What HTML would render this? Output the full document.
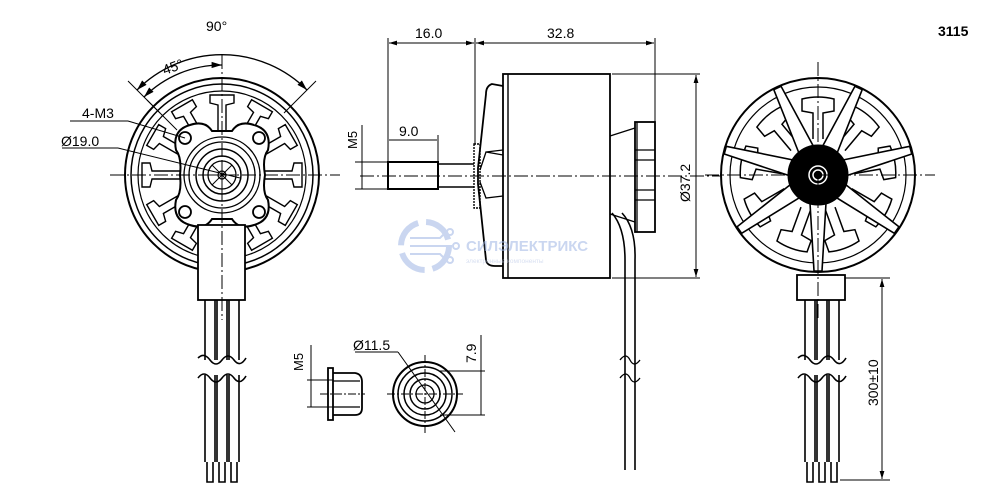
<!DOCTYPE html>
<html><head><meta charset="utf-8"><style>
html,body{margin:0;padding:0;background:#fff;}
svg{display:block;}
text{font-family:"Liberation Sans",sans-serif;fill:#000;}
</style></head><body>
<svg width="1000" height="500" viewBox="0 0 1000 500" xmlns="http://www.w3.org/2000/svg">
<defs>
<marker id="ar" viewBox="0 0 10 6" refX="10" refY="3" markerWidth="8" markerHeight="5" orient="auto-start-reverse"><path d="M0,0 L10,3 L0,6 z" fill="#000"/></marker>
<g id="tooth">
<path d="M-4,-42 L-4,-70 L-12,-72 L-12,-80 L12,-80 L12,-72 L4,-70 L4,-42" fill="none" stroke="#000" stroke-width="1.4"/>
</g>
<g id="spoke">
<path d="M-8,-28 L-4,-96 L4,-96 L8,-28 z" fill="#fff" stroke="#000" stroke-width="1.6"/>
</g>
<g id="tooth2">
<path d="M-5,-36 L-5,-62 L-16,-64 L-16,-76 Q0,-80 16,-76 L16,-64 L5,-62 L5,-36" fill="none" stroke="#000" stroke-width="1.5"/>
</g>
</defs>

<text x="938" y="36" font-size="14" font-weight="bold">3115</text>

<!-- LEFT VIEW -->
<g stroke="#000" fill="none">
<circle cx="222" cy="175" r="97" stroke-width="2"/>
<circle cx="222" cy="175" r="91" stroke-width="1.5"/>
<circle cx="222" cy="175" r="84" stroke-width="1.2"/>
<g transform="translate(222,175)">
<use href="#tooth"/><use href="#tooth" transform="rotate(30)"/><use href="#tooth" transform="rotate(60)"/><use href="#tooth" transform="rotate(90)"/><use href="#tooth" transform="rotate(120)"/><use href="#tooth" transform="rotate(150)"/><use href="#tooth" transform="rotate(210)"/><use href="#tooth" transform="rotate(240)"/><use href="#tooth" transform="rotate(270)"/><use href="#tooth" transform="rotate(300)"/><use href="#tooth" transform="rotate(330)"/>
<line x1="-45" y1="-45" x2="-75" y2="-75" stroke-width="1"/>
</g>
<path d="M190,125 Q205,120 212,131 L232,131 Q239,120 254,125 Q272,130 268,150 Q262,158 265,175 Q262,192 268,200 Q272,220 254,225 Q239,230 232,219 L212,219 Q205,230 190,225 Q172,220 176,200 Q182,192 180,175 Q182,158 176,150 Q172,130 190,125 z" fill="#fff" stroke-width="2"/>
<circle cx="185" cy="138" r="6" stroke-width="1.8"/><circle cx="259" cy="138" r="6" stroke-width="1.8"/>
<circle cx="185" cy="212" r="6" stroke-width="1.8"/><circle cx="259" cy="212" r="6" stroke-width="1.8"/>
<circle cx="222" cy="175" r="38" stroke-width="1.3"/>
<circle cx="222" cy="175" r="33" stroke-width="1.3"/>
<circle cx="222" cy="175" r="26" stroke-width="1.5"/>
<circle cx="222" cy="175" r="19" stroke-width="1.5"/>
<circle cx="222" cy="175" r="14" stroke-width="1.3"/>
<circle cx="222" cy="175" r="4" stroke-width="1.2"/>
<g stroke-width="1"><line x1="208" y1="175" x2="236" y2="175"/><line x1="222" y1="161" x2="222" y2="189"/><line x1="212" y1="165" x2="232" y2="185"/><line x1="232" y1="165" x2="212" y2="185"/></g>
<rect x="198" y="225" width="47" height="75" fill="#fff" stroke-width="1.8"/>
<g stroke-width="1" stroke-dasharray="14,3,2,3"><line x1="110" y1="175" x2="340" y2="175"/><line x1="222" y1="55" x2="222" y2="320"/></g>
<g stroke-width="1.6">
<path d="M205,300 V360 M215,300 V360 M217,300 V360 M227,300 V360 M229,300 V360 M239,300 V360"/>
<path d="M205,375 V462 M215,375 V462 M217,375 V462 M227,375 V462 M229,375 V462 M239,375 V462"/>
<path d="M198,358 Q204,352 210,360 T222,360 T234,360 T246,358"/>
<path d="M198,378 Q204,370 210,378 T222,378 T234,378 T246,376"/>
<path d="M207,462 V482 H213 V462 M219,462 V482 H225 V462 M231,462 V482 H237 V462"/>
</g>
<path d="M137,90 A120,120 0 0 1 307,90" stroke-width="1.3" marker-start="url(#ar)" marker-end="url(#ar)"/>
<line x1="128" y1="81" x2="160" y2="113" stroke-width="1"/><line x1="316" y1="81" x2="284" y2="113" stroke-width="1"/>
<path d="M144,97 A110,110 0 0 1 222,65" stroke-width="1.3" marker-start="url(#ar)" marker-end="url(#ar)"/>
<line x1="70" y1="121" x2="128" y2="121" stroke-width="1"/><line x1="128" y1="121" x2="185" y2="138" stroke-width="1"/>
<line x1="62" y1="148" x2="118" y2="148" stroke-width="1"/><line x1="118" y1="148" x2="240" y2="178" stroke-width="1"/>
</g>
<text x="206" y="31" font-size="14">90°</text>
<text x="162" y="72" font-size="14" transform="rotate(-20 172 66)">45°</text>
<text x="82" y="118" font-size="14">4-M3</text>
<text x="61" y="146" font-size="14">Ø19.0</text>

<!-- SIDE VIEW -->
<g stroke="#000" fill="none">
<rect x="503" y="74" width="107" height="204" stroke-width="1.8"/>
<line x1="508" y1="74" x2="508" y2="278" stroke-width="1.4"/>
<path d="M503,86 L492,84 Q486,86 486,94 L478,168 L478,184 L486,260 Q487,266 495,266 L503,266" stroke-width="1.8"/>
<path d="M503,155 L486,152 L480,170 M503,196 L486,198 L480,182 M486,152 L503,150" stroke-width="1.3"/>
<rect x="474" y="144" width="6" height="64" stroke-width="1.4" stroke-dasharray="2,1"/>
<rect x="388" y="162" width="50" height="27" stroke-width="2"/>
<line x1="438" y1="164" x2="474" y2="164" stroke-width="1.4"/><line x1="438" y1="187" x2="474" y2="187" stroke-width="1.4"/>
<path d="M610,136 L635,128 M610,214 L635,222" stroke-width="1.3"/>
<rect x="635" y="122" width="20" height="110" stroke-width="1.8"/>
<path d="M637,122 V232 M635,150 H655 M635,160 H655 M635,190 H655 M635,200 H655" stroke-width="1.3"/>
<path d="M612,213 Q625,228 625,260 V470 M622,213 Q636,228 635,260 V470" stroke-width="1.6"/>
<path d="M620,360 Q626,352 630,360 T640,360 M620,378 Q626,370 630,378 T640,378" stroke-width="1.3"/>
<line x1="360" y1="176" x2="720" y2="176" stroke-width="1" stroke-dasharray="14,3,2,3"/>
<line x1="388" y1="38" x2="388" y2="162" stroke-width="1"/>
<line x1="475" y1="38" x2="475" y2="144" stroke-width="1"/>
<line x1="655" y1="38" x2="655" y2="122" stroke-width="1"/>
<line x1="389" y1="43" x2="474" y2="43" stroke-width="1" marker-start="url(#ar)" marker-end="url(#ar)"/>
<line x1="476" y1="43" x2="654" y2="43" stroke-width="1" marker-start="url(#ar)" marker-end="url(#ar)"/>
<line x1="438" y1="135" x2="438" y2="162" stroke-width="1"/>
<line x1="389" y1="140" x2="437" y2="140" stroke-width="1"/>
<line x1="355" y1="162" x2="388" y2="162" stroke-width="1"/><line x1="355" y1="189" x2="388" y2="189" stroke-width="1"/>
<line x1="362" y1="125" x2="362" y2="189" stroke-width="1"/>
<line x1="612" y1="74" x2="700" y2="74" stroke-width="1"/><line x1="612" y1="278" x2="700" y2="278" stroke-width="1"/>
<line x1="696" y1="75" x2="696" y2="277" stroke-width="1" marker-start="url(#ar)" marker-end="url(#ar)"/>
</g>
<text x="415" y="38" font-size="14">16.0</text>
<text x="547" y="38" font-size="14">32.8</text>
<text x="399" y="136" font-size="14">9.0</text>
<text x="357" y="149" font-size="13" transform="rotate(-90 357 149)">M5</text>
<text x="690" y="202" font-size="14" transform="rotate(-90 690 202)">Ø37.2</text>

<!-- RIGHT VIEW -->
<g stroke="#000" fill="none">
<circle cx="818" cy="175" r="97" stroke-width="2"/>
<circle cx="818" cy="175" r="88" stroke-width="1.2"/>
<g transform="translate(818,175)">
<use href="#tooth2" transform="rotate(0)"/><use href="#tooth2" transform="rotate(40)"/><use href="#tooth2" transform="rotate(80)"/><use href="#tooth2" transform="rotate(120)"/><use href="#tooth2" transform="rotate(160)"/><use href="#tooth2" transform="rotate(200)"/><use href="#tooth2" transform="rotate(240)"/><use href="#tooth2" transform="rotate(280)"/><use href="#tooth2" transform="rotate(320)"/>
<use href="#spoke" transform="rotate(-25)"/><use href="#spoke" transform="rotate(25)"/><use href="#spoke" transform="rotate(75)"/><use href="#spoke" transform="rotate(125)"/><use href="#spoke" transform="rotate(180)"/><use href="#spoke" transform="rotate(235)"/><use href="#spoke" transform="rotate(285)"/>
</g>
<circle cx="818" cy="175" r="30" fill="#000"/>
<circle cx="818" cy="175" r="9" stroke="#fff" stroke-width="1.5"/>
<circle cx="818" cy="175" r="5" stroke="#fff" stroke-width="1.5"/>
<g stroke-width="1" stroke-dasharray="14,3,2,3"><line x1="705" y1="175" x2="935" y2="175"/><line x1="818" y1="62" x2="818" y2="320"/></g>
<rect x="797" y="275" width="48" height="25" stroke-width="1.8"/>
<g stroke-width="1.6">
<path d="M805,300 V360 M815,300 V360 M817,300 V360 M827,300 V360 M829,300 V360 M839,300 V360"/>
<path d="M805,375 V462 M815,375 V462 M817,375 V462 M827,375 V462 M829,375 V462 M839,375 V462"/>
<path d="M798,358 Q804,352 810,360 T822,360 T834,360 T846,358"/>
<path d="M798,378 Q804,370 810,378 T822,378 T834,378 T846,376"/>
<path d="M807,462 V482 H813 V462 M819,462 V482 H825 V462 M831,462 V482 H837 V462"/>
</g>
<line x1="845" y1="278" x2="890" y2="278" stroke-width="1"/><line x1="840" y1="480" x2="890" y2="480" stroke-width="1"/>
<line x1="882" y1="279" x2="882" y2="479" stroke-width="1" marker-start="url(#ar)" marker-end="url(#ar)"/>
</g>
<text x="878" y="406" font-size="14" transform="rotate(-90 878 406)">300±10</text>

<!-- NUT -->
<g stroke="#000" fill="none">
<path d="M328,368 L333,368 L333,420 L328,420 z" stroke-width="1.8"/>
<path d="M333,373 L355,373 Q362,374 362,382 L362,408 Q362,415 355,415 L333,415" stroke-width="1.8"/>
<path d="M333,381 H360 M333,407 H360" stroke-width="1.3"/>
<line x1="320" y1="394" x2="365" y2="394" stroke-width="1" stroke-dasharray="8,2,2,2"/>
<line x1="307" y1="380" x2="333" y2="380" stroke-width="1"/><line x1="307" y1="407" x2="333" y2="407" stroke-width="1"/>
<line x1="311" y1="345" x2="311" y2="407" stroke-width="1"/>
<circle cx="425" cy="394" r="32" stroke-width="2"/>
<circle cx="425" cy="394" r="27" stroke-width="1.5"/>
<circle cx="425" cy="394" r="21" stroke-width="1.5"/>
<circle cx="425" cy="394" r="15" stroke-width="1.5"/>
<circle cx="425" cy="394" r="9" stroke-width="1.3"/>
<g stroke-width="1" stroke-dasharray="8,2,2,2"><line x1="387" y1="394" x2="463" y2="394"/><line x1="425" y1="355" x2="425" y2="433"/></g>
<line x1="355" y1="352" x2="398" y2="352" stroke-width="1"/><line x1="398" y1="352" x2="455" y2="432" stroke-width="1"/>
<line x1="440" y1="371" x2="485" y2="371" stroke-width="1"/><line x1="440" y1="415" x2="485" y2="415" stroke-width="1"/>
<line x1="481" y1="335" x2="481" y2="415" stroke-width="1"/>
</g>
<text x="303" y="371" font-size="13" transform="rotate(-90 303 371)">M5</text>
<text x="353" y="350" font-size="14">Ø11.5</text>
<text x="476" y="363" font-size="14" transform="rotate(-90 476 363)">7.9</text>

<!-- watermark -->
<g opacity="0.55">
<circle cx="425" cy="246" r="24" fill="none" stroke="#9fb6e4" stroke-width="6" stroke-dasharray="30,8"/>
<g stroke="#9fb6e4" stroke-width="2" fill="none"><path d="M410,238 H440 L446,232 M410,246 H452 M410,254 H440 L446,260"/><circle cx="450" cy="232" r="3"/><circle cx="456" cy="246" r="3"/><circle cx="450" cy="260" r="3"/></g>
<text x="466" y="251" font-size="15" font-weight="bold" style="fill:#9fb6e4">СИЛЭЛЕКТРИКС</text>
<text x="466" y="263" font-size="6.5" style="fill:#b8c6e6">электронные компоненты</text>
</g>
</svg>
</body></html>
